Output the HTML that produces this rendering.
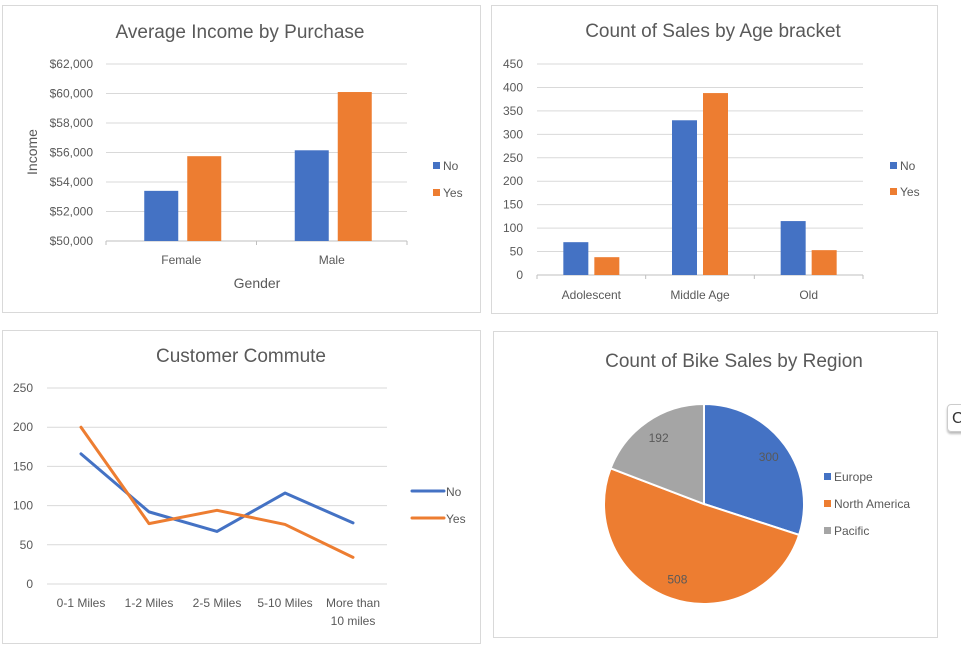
<!DOCTYPE html>
<html><head><meta charset="utf-8"><style>
body{margin:0;width:961px;height:655px;background:#fff;font-family:"Liberation Sans",sans-serif;overflow:hidden;position:relative}
.box{position:absolute;border:1px solid #d9d9d9;background:#fff}
svg{position:absolute;left:0;top:0}
text{font-family:"Liberation Sans",sans-serif;fill:#595959}
</style></head><body>
<div class="box" style="left:2px;top:5px;width:477px;height:306px"></div>
<div class="box" style="left:491px;top:5px;width:445px;height:307px"></div>
<div class="box" style="left:2px;top:330px;width:477px;height:312px"></div>
<div class="box" style="left:493px;top:331px;width:443px;height:305px"></div>
<div style="position:absolute;left:947px;top:404px;width:20px;height:28px;border:1px solid #ccc;border-radius:4px;box-shadow:0 2px 2px #bbb;font-size:16px;color:#333;line-height:28px;padding-left:4px;box-sizing:border-box">C</div>
<svg id="s" width="961" height="655"></svg>
<script>
const genderCats=["Female","Male"];
const incomeNo=[53400,56150];
const incomeYes=[55750,60100];
const incomeTicks=[50000,52000,54000,56000,58000,60000,62000];
const ageCats=["Adolescent","Middle Age","Old"];
const ageNo=[70,330,115];
const ageYes=[38,388,53];
const ageTicks=[0,50,100,150,200,250,300,350,400,450];
const commuteCats=["0-1 Miles","1-2 Miles","2-5 Miles","5-10 Miles","More than|10 miles"];
const commuteNo=[166,92,67,116,78];
const commuteYes=[200,77,94,76,34];
const commuteTicks=[0,50,100,150,200,250];
const regions=["Europe","North America","Pacific"];
const regionVals=[300,508,192];
const BLUE="#4472c4",ORANGE="#ed7d31",GRAY="#a5a5a5";
const svg=document.getElementById('s');const NS="http://www.w3.org/2000/svg";
function el(t,a,txt){const e=document.createElementNS(NS,t);for(const k in a)e.setAttribute(k,a[k]);if(txt!=null)e.textContent=txt;svg.appendChild(e);return e;}
function legendSq(x,y,c,l,name){let r=el('rect',{x:x,y:y-4,width:7,height:7,fill:c});


let t=el('text',{x:x+10,y:y+4,'font-size':12},l);

}
function title(x,y,s,name){let t=el('text',{x:x,y:y,'font-size':19,'text-anchor':'middle'},s);

}
// Chart 1
(function(){const x0=106,x1=407,yb=241,yt=64,mn=50000,mx=62000;
const Y=v=>yb-(v-mn)/(mx-mn)*(yb-yt);const cw=(x1-x0)/genderCats.length;
title(240,38,"Average Income by Purchase","income-chart-title");
incomeTicks.forEach(v=>{let l=el('line',{x1:x0,x2:x1,y1:Y(v),y2:Y(v),stroke:v==mn?'#bfbfbf':'#d9d9d9'});


let t=el('text',{x:93,y:Y(v)+4,'font-size':12,'text-anchor':'end'},'$'+v.toLocaleString('en-US'));

});
for(let i=0;i<=genderCats.length;i++)el('line',{x1:x0+i*cw,x2:x0+i*cw,y1:yb,y2:yb+4,stroke:'#bfbfbf'});
genderCats.forEach((c,i)=>{const cx=x0+cw*(i+0.5);
let b=el('rect',{x:cx-37,y:Y(incomeNo[i]),width:34,height:yb-Y(incomeNo[i]),fill:BLUE});


b=el('rect',{x:cx+6,y:Y(incomeYes[i]),width:34,height:yb-Y(incomeYes[i]),fill:ORANGE});


let t=el('text',{x:cx,y:264,'font-size':12,'text-anchor':'middle'},c);

});
let t=el('text',{x:257,y:288,'font-size':14,'text-anchor':'middle'},"Gender");


t=el('text',{x:0,y:0,'font-size':14,'text-anchor':'middle',transform:'translate(37,152) rotate(-90)'},"Income");


legendSq(433,166,BLUE,"No","income-legend-no");legendSq(433,193,ORANGE,"Yes","income-legend-yes");})();
// Chart 2
(function(){const x0=537,x1=863,yb=275,yt=64,mx=450;
const Y=v=>yb-v/mx*(yb-yt);const cw=(x1-x0)/ageCats.length;
title(713,37,"Count of Sales by Age bracket","age-chart-title");
ageTicks.forEach(v=>{let l=el('line',{x1:x0,x2:x1,y1:Y(v),y2:Y(v),stroke:v==0?'#bfbfbf':'#d9d9d9'});


let t=el('text',{x:523,y:Y(v)+4,'font-size':12,'text-anchor':'end'},v);

});
for(let i=0;i<=ageCats.length;i++)el('line',{x1:x0+i*cw,x2:x0+i*cw,y1:yb,y2:yb+4,stroke:'#bfbfbf'});
ageCats.forEach((c,i)=>{const cx=x0+cw*(i+0.5);
let b=el('rect',{x:cx-28,y:Y(ageNo[i]),width:25,height:yb-Y(ageNo[i]),fill:BLUE});


b=el('rect',{x:cx+3,y:Y(ageYes[i]),width:25,height:yb-Y(ageYes[i]),fill:ORANGE});


let t=el('text',{x:cx,y:299,'font-size':12,'text-anchor':'middle'},c);

});
legendSq(890,166,BLUE,"No","age-legend-no");legendSq(890,192,ORANGE,"Yes","age-legend-yes");})();
// Chart 3
(function(){const x0=47,x1=387,yb=584,yt=388,mx=250;
const Y=v=>yb-v/mx*(yb-yt);const cw=(x1-x0)/commuteCats.length;const X=i=>x0+cw*(i+0.5);
title(241,362,"Customer Commute","commute-chart-title");
commuteTicks.forEach(v=>{let l=el('line',{x1:x0,x2:x1,y1:Y(v),y2:Y(v),stroke:'#d9d9d9'});


let t=el('text',{x:33,y:Y(v)+4,'font-size':12,'text-anchor':'end'},v);

});
commuteCats.forEach((c,i)=>{c.split('|').forEach((p,j)=>{let t=el('text',{x:X(i),y:607+j*18,'font-size':12,'text-anchor':'middle'},p);

});});
[[commuteNo,BLUE,'no'],[commuteYes,ORANGE,'yes']].forEach(([d,c,n])=>{let p=el('polyline',{points:d.map((v,i)=>X(i)+','+Y(v)).join(' '),fill:'none',stroke:c,'stroke-width':3,'stroke-linejoin':'round','stroke-linecap':'round'});

});
[[BLUE,"No",491],[ORANGE,"Yes",518]].forEach(([c,l,y])=>{let ln=el('line',{x1:412,x2:444,y1:y,y2:y,stroke:c,'stroke-width':3,'stroke-linecap':'round'});


let t=el('text',{x:446,y:y+5,'font-size':12},l);

});})();
// Chart 4
(function(){const cx=704,cy=504,r=100;const tot=regionVals.reduce((a,b)=>a+b,0);const cols=[BLUE,ORANGE,GRAY];
title(734,367,"Count of Bike Sales by Region","region-chart-title");
let a=-Math.PI/2;
regionVals.forEach((v,i)=>{const a2=a+v/tot*2*Math.PI;const lg=(a2-a)>Math.PI?1:0;
let p=el('path',{d:`M${cx},${cy} L${cx+r*Math.cos(a)},${cy+r*Math.sin(a)} A${r},${r} 0 ${lg} 1 ${cx+r*Math.cos(a2)},${cy+r*Math.sin(a2)} Z`,fill:cols[i],stroke:'#fff','stroke-width':2});


const m=(a+a2)/2;
let t=el('text',{x:cx+r*0.8*Math.cos(m),y:cy+r*0.8*Math.sin(m)+4,'font-size':12,'text-anchor':'middle',fill:'#404040'},v);


a=a2;});
regions.forEach((rg,i)=>legendSq(824,477+27*i,cols[i],rg,'region-legend-'+i));})();
</script>
</body></html>
